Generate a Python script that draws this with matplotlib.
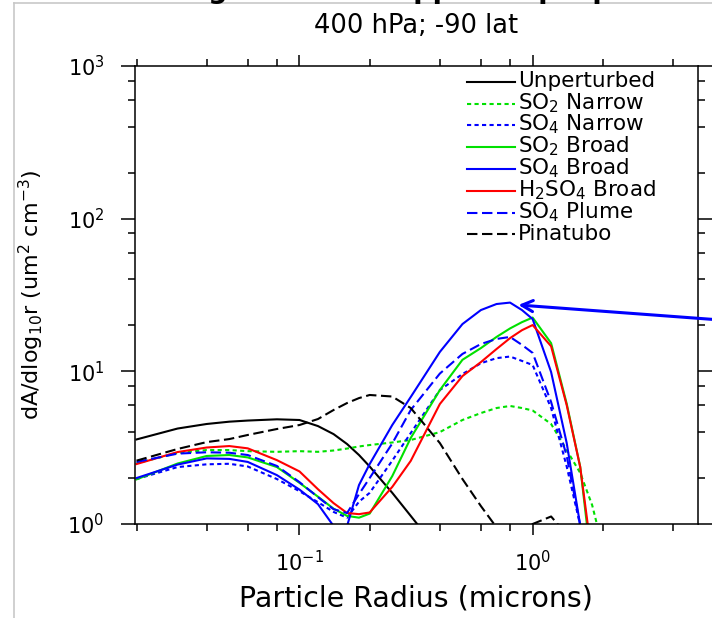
#!/usr/bin/env python3
"""
Surface area size distributions, 400 hPa at -90 lat
"""

import matplotlib
matplotlib.use('Agg')
import matplotlib.pyplot as plt
from matplotlib.ticker import LogLocator, NullFormatter
from matplotlib.lines import Line2D

plt.rcParams['font.family'] = ['DejaVu Sans']
plt.rcParams['mathtext.default'] = 'regular'

# particle radius (microns)
radius = [0.02, 0.03, 0.04, 0.05, 0.06, 0.08, 0.1, 0.12, 0.14, 0.16, 0.18, 0.2,
          0.25, 0.3, 0.4, 0.5, 0.6, 0.7, 0.8, 0.9, 1.0, 1.2, 1.4, 1.6, 1.8, 2.0]

# dA/dlog10r (um2 cm-3); values < 1 fall below the axis
unperturbed = [3.58, 4.22, 4.52, 4.68, 4.76, 4.85, 4.80, 4.38, 3.88, 3.34, 2.83, 2.38,
               1.60, 1.13, 0.65, 0.40, 0.30, 0.25, 0.20, 0.20, 0.20, 0.20, 0.20, 0.20, 0.20, 0.20]
so2_narrow = [2.50, 2.92, 3.05, 3.05, 3.00, 2.97, 3.00, 2.97, 3.03, 3.12, 3.22, 3.29,
              3.42, 3.55, 4.00, 4.80, 5.33, 5.75, 5.93, 5.75, 5.54, 4.52, 3.05, 2.16, 1.33, 0.70]
so4_narrow = [1.97, 2.36, 2.46, 2.48, 2.38, 1.97, 1.64, 1.39, 1.20, 1.10, 1.40, 1.60,
              2.60, 3.94, 7.54, 9.60, 11.3, 12.2, 12.5, 11.7, 11.0, 5.75, 2.38, 0.98, 0.30, 0.20]
so2_broad = [1.96, 2.49, 2.79, 2.83, 2.73, 2.36, 1.86, 1.51, 1.26, 1.13, 1.10, 1.17,
             2.06, 3.66, 7.54, 11.9, 14.2, 16.8, 19.1, 21.0, 22.5, 15.3, 6.14, 2.37, 0.50, 0.30]
so4_broad = [2.00, 2.45, 2.69, 2.67, 2.55, 2.09, 1.68, 1.35, 0.97, 0.97, 1.80, 2.47,
             4.45, 6.79, 13.4, 20.4, 25.2, 27.6, 28.2, 25.2, 22.0, 9.90, 3.39, 0.98, 0.30, 0.20]
h2so4_broad = [2.47, 2.96, 3.17, 3.24, 3.13, 2.62, 2.21, 1.69, 1.37, 1.18, 1.16, 1.19,
               1.75, 2.59, 6.11, 9.31, 11.5, 14.0, 16.5, 18.6, 20.1, 14.6, 6.00, 2.36, 0.60, 0.30]
so4_plume = [2.55, 2.89, 2.95, 2.93, 2.83, 2.40, 1.88, 1.50, 1.25, 1.18, 1.57, 2.00,
             3.37, 5.58, 9.67, 13.0, 15.1, 16.3, 16.8, 14.9, 13.2, 6.30, 2.79, 0.98, 0.30, 0.20]
pinatubo = [2.60, 3.10, 3.44, 3.60, 3.83, 4.19, 4.45, 4.87, 5.58, 6.20, 6.68, 7.00,
            6.84, 5.75, 3.39, 1.97, 1.31, 0.95, 0.80, 0.85, 1.00, 1.12, 0.85, 0.40, 0.30, 0.30]

labels = ['Unperturbed', 'SO$_2$ Narrow', 'SO$_4$ Narrow', 'SO$_2$ Broad',
          'SO$_4$ Broad', 'H$_2$SO$_4$ Broad', 'SO$_4$ Plume', 'Pinatubo']

# arrow pointing at the SO4 Broad peak
ARROW_TIP = (0.869, 27.2)

GREEN = '#00e000'
BLUE = '#0000ff'
DOT = (0, (2.0, 1.6))
DASH = (0, (5.0, 2.2))

W, H = 712, 618


def main():
    series = [
        (unperturbed, 'black', '-'),
        (so2_narrow, GREEN, DOT),
        (so4_narrow, BLUE, DOT),
        (so2_broad, GREEN, '-'),
        (so4_broad, BLUE, '-'),
        (h2so4_broad, 'red', '-'),
        (so4_plume, BLUE, DASH),
        (pinatubo, 'black', DASH),
    ]

    fig = plt.figure(figsize=(W / 100, H / 100), dpi=100)
    ax = fig.add_axes([135 / W, 1 - 524 / H, (697.6 - 135) / W, (524 - 66) / H])

    for (vals, color, ls), lab in zip(series, labels):
        ax.plot(radius, vals, color=color, linestyle=ls, linewidth=1.5, label=lab)

    ax.set_xscale('log')
    ax.set_yscale('log')
    ax.set_xlim(0.0197, 5.1)
    ax.set_ylim(1, 1000)

    for axis in (ax.xaxis, ax.yaxis):
        axis.set_minor_locator(LogLocator(base=10, subs=(2, 4, 6, 8)))
        axis.set_minor_formatter(NullFormatter())
    ax.tick_params(which='both', direction='out', top=True, right=True, width=1.1,
                   labelsize=15)
    ax.tick_params(axis='x', which='major', length=8, pad=11)
    ax.tick_params(axis='y', which='major', length=10, pad=12)
    ax.tick_params(which='minor', length=4.7)
    for sp in ax.spines.values():
        sp.set_linewidth(1.1)

    ax.set_xlabel('Particle Radius (microns)', fontsize=20.5, va='baseline')
    ax.xaxis.set_label_coords(0.5, -(606.7 - 524) / 458)
    ax.set_ylabel('dA/dlog$_{10}$r (um$^2$ cm$^{-3}$)', fontsize=16, va='center')
    ax.yaxis.set_label_coords((31 - 135) / 562.6, 0.5)

    # legend drawn by hand so the rows keep an even spacing
    for i, ((vals, color, ls), lab) in enumerate(zip(series, labels)):
        y = 81.7 + 21.8 * i
        fig.add_artist(Line2D([467 / W, 515 / W], [1 - y / H] * 2, transform=fig.transFigure,
                              color=color, linestyle=ls, linewidth=1.5))
        fig.text(518 / W, 1 - (y + 5.5) / H, lab, fontsize=15.5, va='baseline', ha='left')

    # titles (main title is cut off at the top of the slide)
    fig.text(87 / W, 1 + 1.5 / H, 'Modeling Sulfate in upper troposphere',
             fontsize=19.5, fontweight='bold', va='baseline', ha='left')
    fig.text(416 / W, 1 - 33 / H, '400 hPa; -90 lat', fontsize=18.5,
             ha='center', va='baseline')

    # slide frame
    fig.add_artist(Line2D([14 / W, 14 / W], [0, 1 - 3.3 / H], transform=fig.transFigure,
                          color='#c8c8c8', linewidth=1.2))
    fig.add_artist(Line2D([14 / W, 1], [1 - 3.3 / H] * 2, transform=fig.transFigure,
                          color='#c8c8c8', linewidth=1.2))

    ax.annotate('', xy=ARROW_TIP, xycoords='data',
                xytext=(1.02, 1 - 320.4 / H), textcoords='figure fraction',
                arrowprops=dict(arrowstyle='->', color=BLUE, lw=2.2, mutation_scale=20,
                                shrinkA=0, shrinkB=0),
                annotation_clip=False)

    fig.savefig('out.png', dpi=100)


if __name__ == "__main__":
    main()
